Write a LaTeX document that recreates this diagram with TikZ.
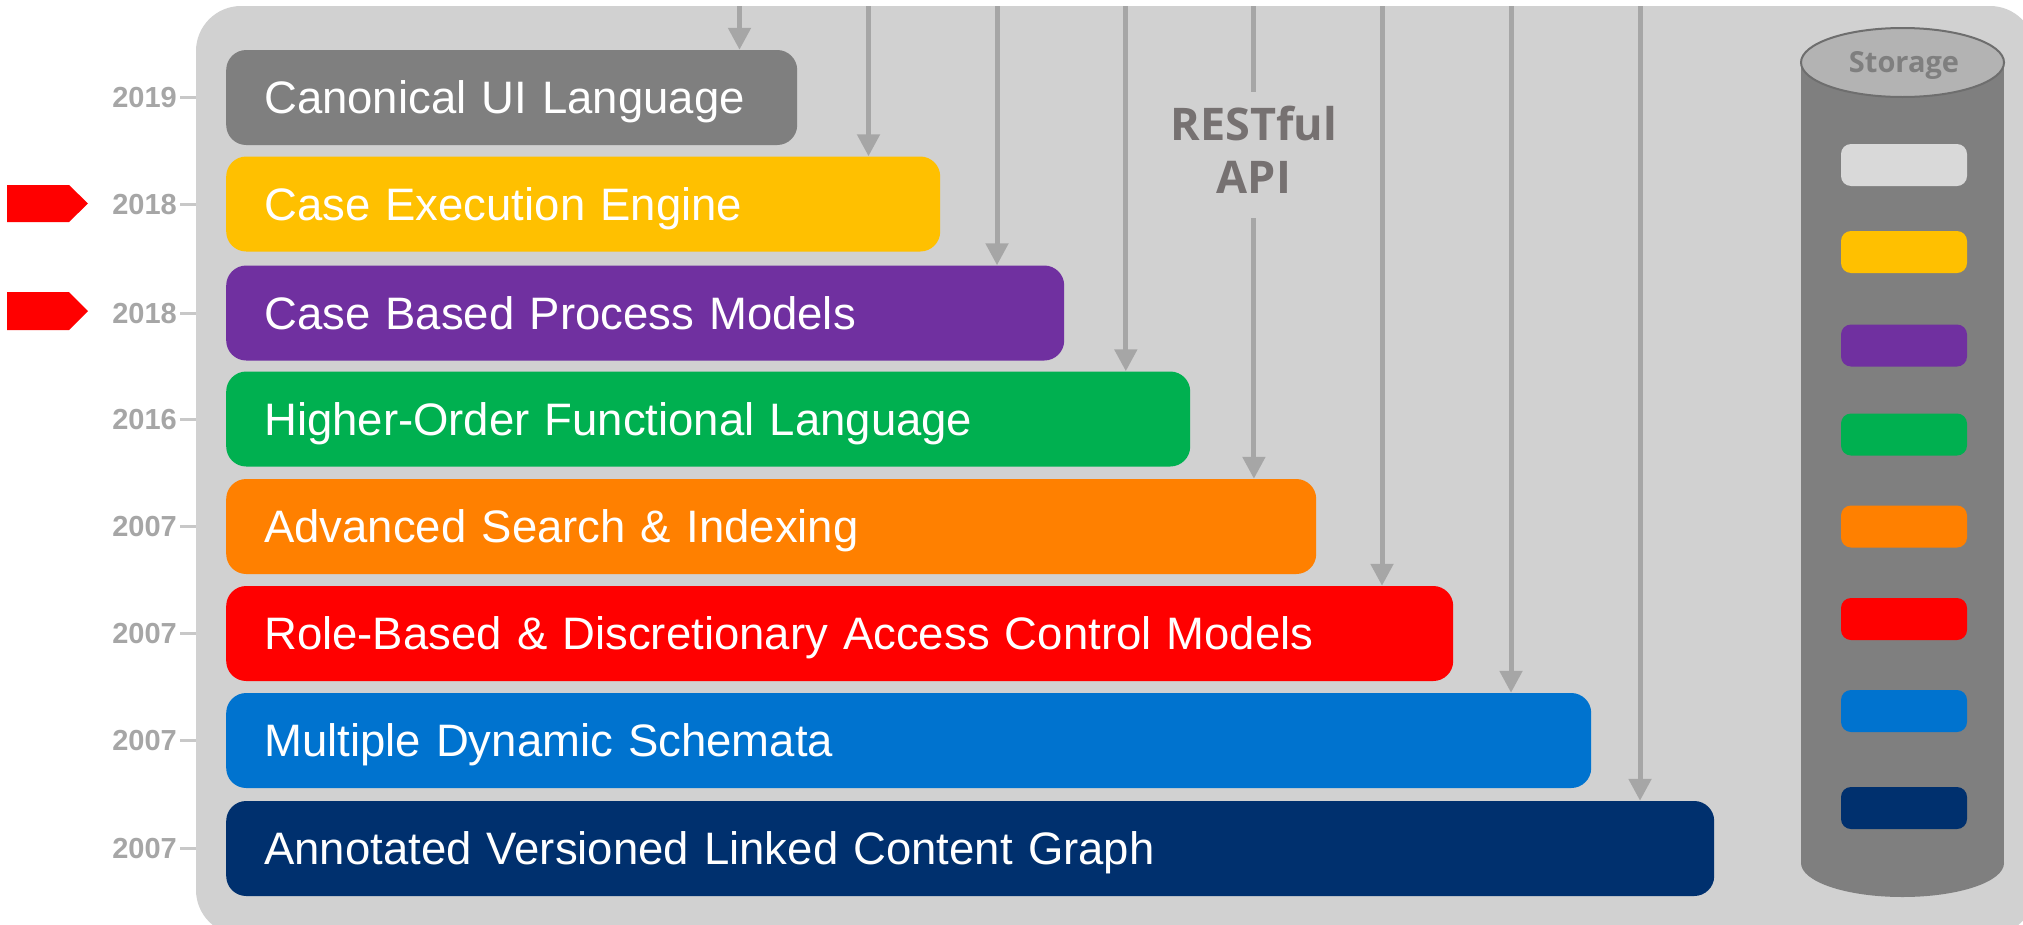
\documentclass[tikz,border=0pt]{standalone}
\usepackage{fontspec}
\setmainfont{Liberation Sans}
\newfontfamily\opensans{Open Sans}
\usetikzlibrary{arrows.meta,shapes.geometric}
\definecolor{panel}{HTML}{D1D1D1}
\definecolor{cgray}{HTML}{7F7F7F}
\definecolor{cyellow}{HTML}{FFC000}
\definecolor{cpurple}{HTML}{7030A0}
\definecolor{cgreen}{HTML}{00B050}
\definecolor{corange}{HTML}{FF8000}
\definecolor{cred}{HTML}{FF0000}
\definecolor{cblue}{HTML}{0073CF}
\definecolor{cnavy}{HTML}{00306E}
\definecolor{linegray}{HTML}{A6A6A6}
\definecolor{yeargray}{HTML}{A6A6A6}
\definecolor{tickgray}{HTML}{C8C8C8}
\definecolor{apigray}{HTML}{767171}
\definecolor{cyltop}{HTML}{B3B3B3}
\definecolor{cyledge}{HTML}{6E6E6E}
\definecolor{clight}{HTML}{D9D9D9}
\tikzset{
  barbox/.style={fill=#1, rounded corners=20pt, inner xsep=38pt, inner ysep=0pt,
    minimum height=95pt, anchor=west, align=left, text=white,
    font=\fontsize{45.5}{54}\selectfont, text height=32.6pt, text depth=0pt},
  yearlabel/.style={anchor=base east, text=yeargray, inner sep=0pt,
    font=\bfseries\fontsize{29}{34}\selectfont},
  yeartick/.style={draw=tickgray, line width=3pt},
  apiarrow/.style={draw=linegray, line width=5pt, -{Triangle[width=22pt,length=22pt]}},
  apiline/.style={draw=linegray, line width=5pt},
  apitext/.style={anchor=base, text=apigray, inner sep=0pt,
    font=\opensans\bfseries\fontsize{45}{52}\selectfont},
  storebox/.style={fill=#1, rounded corners=10pt, minimum width=126pt,
    minimum height=42pt, inner sep=0pt},
  marker/.style={fill=cred}
}
\begin{document}
\begin{tikzpicture}[x=1pt,y=-1pt]
\useasboundingbox (0,0) rectangle (2023,924);
\begin{scope}
  \clip (0,0) rectangle (2023,924);
  \fill[panel, rounded corners=45pt] (196,6) rectangle (2035,935);
\end{scope}

% red markers
\fill[marker] (7,185) -- (69,185) -- (88,203.5) -- (69,222) -- (7,222) -- cycle;
\fill[marker] (7,292) -- (69,292) -- (88,311) -- (69,330) -- (7,330) -- cycle;

% bars
\foreach \i/\cy/\r/\col/\txt/\yr in {
  1/97.5/797/cgray/Canonical UI Language/2019,
  2/204/940/cyellow/Case Execution Engine/2018,
  3/313/1064/cpurple/Case Based Process Models/2018,
  4/419/1190/cgreen/Higher-Order Functional Language/2016,
  5/526.5/1316/corange/Advanced Search \& Indexing/2007,
  6/633.5/1453/cred/Role-Based \& Discretionary Access Control Models/2007,
  7/740.5/1591/cblue/Multiple Dynamic Schemata/2007,
  8/848.5/1714/cnavy/Annotated Versioned Linked Content Graph/2007}{
  \pgfmathsetmacro{\w}{\r-226}
  \pgfmathsetmacro{\tw}{\r-226-76}
  \node[barbox=\col, minimum width=\w pt, text width=\tw pt] (b\i) at (226,\cy) {\txt};
  \node[yearlabel] (y\i) at (177,\cy+10) {\yr};
  \coordinate (k\i) at (180,\cy);
  \draw[yeartick] (k\i) -- (b\i.west -| 196,0);
}

% arrows from top
\foreach \i/\x in {1/739.5,2/868.5,3/997,4/1125.8,6/1382,7/1511,8/1640}{
  \coordinate (t\i) at (\x,6);
  \draw[apiarrow] (t\i) -- (b\i.north -| t\i);
}
% RESTful API arrow
\coordinate (t5) at (1253.9,6);
\node[apitext] (rest) at (1253.9,140) {RESTful};
\node[apitext] (api) at (1253.9,193) {API};
\coordinate (a5u) at (1253.9,92);
\coordinate (a5d) at (1253.9,218);
\draw[apiline] (t5) -- (a5u);
\draw[apiarrow] (a5d) -- (b5.north -| a5d);

% storage cylinder
\fill[cgray] (1801,62.5) rectangle (2004,863);
\fill[cgray] (1902.5,863) ellipse [x radius=101.5pt, y radius=34pt];
\node[ellipse, fill=cyltop, draw=cyledge, line width=2pt, minimum width=203pt,
  minimum height=69pt, inner sep=0pt] (stor) at (1902.5,62.5) {};
\node[anchor=base, text=cgray, inner sep=0pt, font=\opensans\bfseries\fontsize{29}{34}\selectfont]
  (storlbl) at (1904,72) {Storage};

\foreach \i/\cy/\col in {1/165/clight,2/252/cyellow,3/345.5/cpurple,4/434.5/cgreen,
  5/526.5/corange,6/619/cred,7/711/cblue,8/808/cnavy}{
  \node[storebox=\col] (s\i) at (1904,\cy) {};
}
\end{tikzpicture}
\end{document}
